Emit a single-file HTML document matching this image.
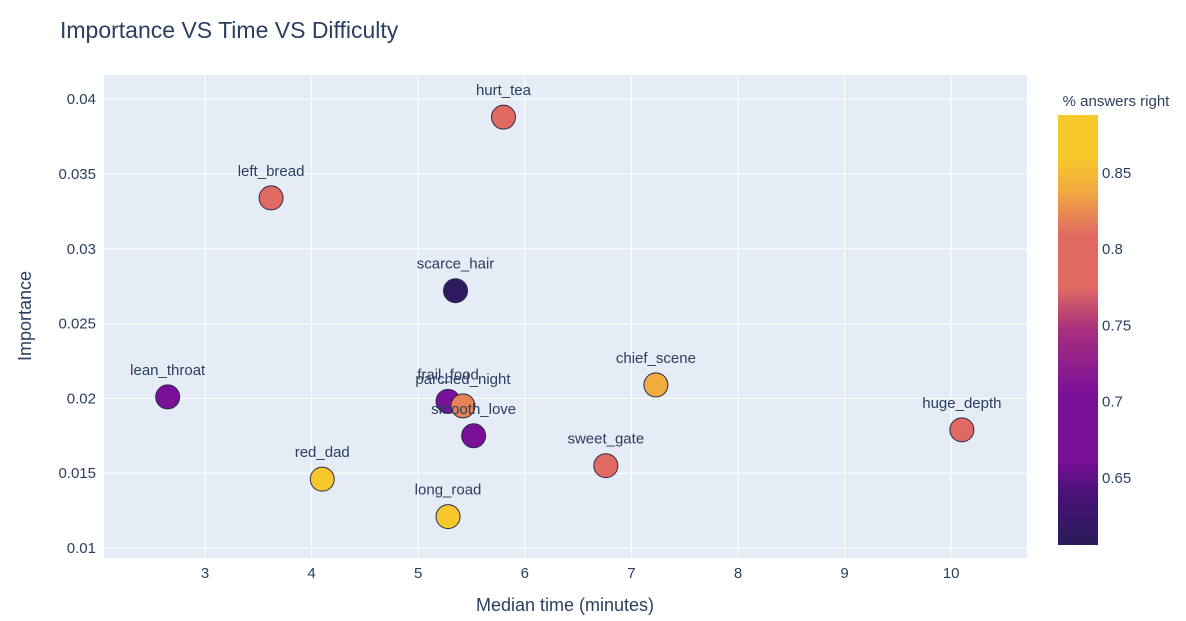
<!DOCTYPE html>
<html><head><meta charset="utf-8"><style>
body{margin:0;background:#fff;}
svg text{font-family:"Liberation Sans",sans-serif;fill:#2a3f5f;}
</style></head><body>
<svg id="c" width="1186" height="616" xmlns="http://www.w3.org/2000/svg">
<defs><linearGradient id="pl" x1="0" y1="1" x2="0" y2="0">
<stop offset="0" stop-color="#2a1b5a"/><stop offset="0.12" stop-color="#4a1278"/><stop offset="0.2" stop-color="#7a1098"/><stop offset="0.35" stop-color="#7a1098"/><stop offset="0.5" stop-color="#a8307e"/><stop offset="0.6" stop-color="#e06a62"/><stop offset="0.72" stop-color="#e06a62"/><stop offset="0.82" stop-color="#f0a840"/><stop offset="0.9" stop-color="#f7c82c"/><stop offset="1" stop-color="#f7c82c"/>
</linearGradient></defs>
<text x="60" y="38" font-size="23">Importance VS Time VS Difficulty</text>
<rect x="104" y="75" width="923" height="483" fill="#e5ecf6"/>
<g id="grid"></g><g id="pts"></g>
<text x="565" y="611" font-size="18" text-anchor="middle">Median time (minutes)</text>
<text transform="translate(31,316) rotate(-90)" font-size="18" text-anchor="middle">Importance</text>
<text x="1116" y="106" font-size="15" text-anchor="middle">% answers right</text>
<rect x="1058" y="115" width="40" height="430" fill="url(#pl)"/>
<g id="cb"></g>
</svg>
<script>
const names=["hurt_tea","left_bread","scarce_hair","lean_throat","frail_food","parched_night","smooth_love","chief_scene","huge_depth","sweet_gate","red_dad","long_road"];
const times=[5.8,3.62,5.35,2.65,5.28,5.42,5.52,7.23,10.1,6.76,4.1,5.28];
const importance=[0.0388,0.0334,0.0272,0.0201,0.0198,0.0195,0.0175,0.0209,0.0179,0.0155,0.0146,0.0121];
const rightPct=[0.79,0.79,0.61,0.68,0.68,0.82,0.69,0.84,0.79,0.79,0.87,0.87];
const xTicks=[3,4,5,6,7,8,9,10];
const yTicks=[0.01,0.015,0.02,0.025,0.03,0.035,0.04];
const cTicks=[0.65,0.7,0.75,0.8,0.85];
const NS="http://www.w3.org/2000/svg";
const X=v=>205+(v-3)*106.6, Y=v=>548-(v-0.01)*14960;
const cMin=0.606,cMax=0.888, CY=v=>545-(v-cMin)/(cMax-cMin)*430;
const sOff=[0,0.12,0.2,0.35,0.5,0.6,0.72,0.82,0.9,1];
const sCol=["#2a1b5a","#4a1278","#7a1098","#7a1098","#a8307e","#e06a62","#e06a62","#f0a840","#f7c82c","#f7c82c"];
function col(v){let t=Math.max(0,Math.min(1,(v-cMin)/(cMax-cMin)));let i=0;while(i<sOff.length-2&&t>sOff[i+1])i++;
const f=(t-sOff[i])/(sOff[i+1]-sOff[i]);const a=sCol[i],b=sCol[i+1];const p=(s,k)=>parseInt(s.substr(1+2*k,2),16);
return "rgb("+[0,1,2].map(k=>Math.round(p(a,k)+(p(b,k)-p(a,k))*f)).join(",")+")";}
function mk(tag,at,par,txt){const e=document.createElementNS(NS,tag);for(const k in at)e.setAttribute(k,at[k]);if(txt!=null)e.textContent=txt;document.getElementById(par).appendChild(e);return e;}
xTicks.forEach(v=>{const l=mk("line",{x1:X(v),x2:X(v),y1:75,y2:558,stroke:"#fff","stroke-width":1},"grid");


const t=mk("text",{x:X(v),y:578,"font-size":15,"text-anchor":"middle"},"grid",String(v));

});
yTicks.forEach(v=>{const l=mk("line",{x1:104,x2:1027,y1:Y(v),y2:Y(v),stroke:"#fff","stroke-width":1},"grid");


const t=mk("text",{x:96,y:Y(v)+5,"font-size":15,"text-anchor":"end"},"grid",String(v));

});
names.forEach((n,i)=>{const c=mk("circle",{cx:X(times[i]),cy:Y(importance[i]),r:12,fill:col(rightPct[i]),stroke:"#2a2a4a","stroke-width":1},"pts");


const t=mk("text",{x:X(times[i]),y:Y(importance[i])-22,"font-size":15,"text-anchor":"middle"},"pts",n);

});
cTicks.forEach(v=>{const t=mk("text",{x:1102,y:CY(v)+5,"font-size":15},"cb",String(v));

});
</script>
</body></html>
